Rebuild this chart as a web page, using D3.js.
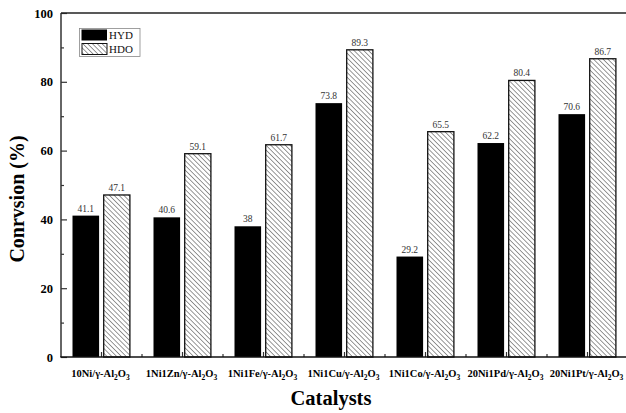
<!DOCTYPE html>
<html>
<head>
<meta charset="utf-8">
<script src="https://cdn.jsdelivr.net/npm/d3@7"></script>
<style>
  html, body { margin: 0; padding: 0; background: #fff; }
  svg { display: block; }
  text { font-family: "Liberation Serif", "Times New Roman", serif; }
</style>
</head>
<body>
<svg id="chart" width="626" height="413"></svg>
<script>
// Catalyst names (support γ-Al2O3 is appended when the labels are drawn)
const catalysts = ["10Ni", "1Ni1Zn", "1Ni1Fe", "1Ni1Cu", "1Ni1Co", "20Ni1Pd", "20Ni1Pt"];
const hydValues = [41.1, 40.6, 38, 73.8, 29.2, 62.2, 70.6];
const hdoValues = [47.1, 59.1, 61.7, 89.3, 65.5, 80.4, 86.7];
const seriesNames = ["HYD", "HDO"];
const yTicks = [0, 20, 40, 60, 80, 100];

const svg = d3.select("#chart");
const plotL = 61, plotR = 628, plotT = 13, plotB = 357;

const x = d3.scaleBand().domain(catalysts).range([plotL, plotR]).padding(0);
const y = d3.scaleLinear().domain([0, 100]).range([plotB, plotT]);

// diagonal hatch for HDO bars
const defs = svg.append("defs");
const pat = defs.append("pattern")
  .attr("id", "hatch")
  .attr("patternUnits", "userSpaceOnUse")
  .attr("width", 3.4).attr("height", 3.4)
  .attr("patternTransform", "rotate(-45)");
pat.append("rect").attr("width", 3.4).attr("height", 3.4).attr("fill", "#fff");
pat.append("line").attr("x1", 0).attr("y1", 0).attr("x2", 0).attr("y2", 3.4)
  .attr("stroke", "#444").attr("stroke-width", 1.1);

const barW = 26.6;
const data = catalysts.map((c, i) => ({ c, hyd: hydValues[i], hdo: hdoValues[i] }));

const g = svg.append("g");
data.forEach(d => {
  const cx = x(d.c) + x.bandwidth() / 2;
  // HYD bar (solid black)
  g.append("rect")
    .attr("x", cx - 29).attr("y", y(d.hyd))
    .attr("width", barW).attr("height", y(0) - y(d.hyd))
    .attr("fill", "#000");
  // HDO bar (hatched, outlined)
  g.append("rect")
    .attr("x", cx + 2.2).attr("y", y(d.hdo))
    .attr("width", barW - 0.4).attr("height", y(0) - y(d.hdo))
    .attr("fill", "url(#hatch)").attr("stroke", "#111").attr("stroke-width", 1.3);
  // value labels
  g.append("text")
    .attr("x", cx - 29 + barW / 2).attr("y", y(d.hyd) - 4)
    .attr("text-anchor", "middle").attr("font-size", 9.5).attr("fill", "#333")
    .text(d.hyd);
  g.append("text")
    .attr("x", cx + 2 + barW / 2).attr("y", y(d.hdo) - 4)
    .attr("text-anchor", "middle").attr("font-size", 9.5).attr("fill", "#333")
    .text(d.hdo);
});

// Y axis (ticks pointing inward)
const yAxis = d3.axisRight(y).tickValues(d3.range(0, 101, 10)).tickSize(6).tickFormat("");
const ya = svg.append("g").attr("transform", `translate(${plotL},0)`).call(yAxis);
ya.select(".domain").remove();
ya.selectAll(".tick line")
  .attr("stroke", "#333").attr("stroke-width", 1.2)
  .attr("x2", d => (d % 20 === 0 ? 6 : 3));
svg.selectAll(".ylab").data(yTicks).join("text")
  .attr("class", "ylab")
  .attr("x", plotL - 8).attr("y", d => y(d) + 4.5)
  .attr("text-anchor", "end").attr("font-size", 12.5).attr("font-weight", "bold")
  .text(d => d);

// X axis ticks (inward): majors at categories, minors between them
const xa = svg.append("g");
catalysts.forEach((c, i) => {
  const cx = x(c) + x.bandwidth() / 2;
  xa.append("line").attr("x1", cx).attr("x2", cx).attr("y1", plotB).attr("y2", plotB - 5)
    .attr("stroke", "#333").attr("stroke-width", 1.2);
  if (i > 0) {
    const bx = x(c);
    xa.append("line").attr("x1", bx).attr("x2", bx).attr("y1", plotB).attr("y2", plotB - 3)
      .attr("stroke", "#333").attr("stroke-width", 1.2);
  }
});

// frame
svg.append("line").attr("x1", plotL).attr("x2", plotL).attr("y1", plotT).attr("y2", plotB)
  .attr("stroke", "#333").attr("stroke-width", 1.5);
svg.append("line").attr("x1", plotL).attr("x2", plotR).attr("y1", plotT).attr("y2", plotT)
  .attr("stroke", "#222").attr("stroke-width", 1.3);
svg.append("line").attr("x1", plotL - 0.7).attr("x2", plotR).attr("y1", plotB).attr("y2", plotB)
  .attr("stroke", "#111").attr("stroke-width", 1.6);

// category labels with γ-Al2O3 subscripts
catalysts.forEach(c => {
  const cx = x(c) + x.bandwidth() / 2;
  const t = svg.append("text")
    .attr("x", cx - 1).attr("y", 377)
    .attr("text-anchor", "middle").attr("font-size", 10.5).attr("font-weight", "bold");
  t.append("tspan").text(c + "/γ-Al");
  t.append("tspan").attr("font-size", 7.5).attr("dy", 2.5).text("2");
  t.append("tspan").attr("dy", -2.5).text("O");
  t.append("tspan").attr("font-size", 7.5).attr("dy", 2.5).text("3");
});

// axis titles
svg.append("text")
  .attr("x", 331).attr("y", 405)
  .attr("text-anchor", "middle").attr("font-size", 20.5).attr("font-weight", "bold")
  .text("Catalysts");
svg.append("text")
  .attr("transform", "translate(24,199) rotate(-90)")
  .attr("text-anchor", "middle").attr("font-size", 20).attr("font-weight", "bold")
  .text("Conrvsion (%)");

// legend
const lg = svg.append("g");
lg.append("rect").attr("x", 79.5).attr("y", 28.5).attr("width", 60.5).attr("height", 28)
  .attr("fill", "#fff").attr("stroke", "#888").attr("stroke-width", 0.8);
lg.append("rect").attr("x", 81.5).attr("y", 29.5).attr("width", 25.5).attr("height", 11)
  .attr("fill", "#000");
lg.append("rect").attr("x", 82).attr("y", 43.5).attr("width", 25).attr("height", 11)
  .attr("fill", "url(#hatch)").attr("stroke", "#111").attr("stroke-width", 1);
seriesNames.forEach((s, i) => {
  lg.append("text").attr("x", 109).attr("y", 39 + i * 14)
    .attr("font-size", 11).attr("fill", "#111").text(s);
});
</script>
</body>
</html>
